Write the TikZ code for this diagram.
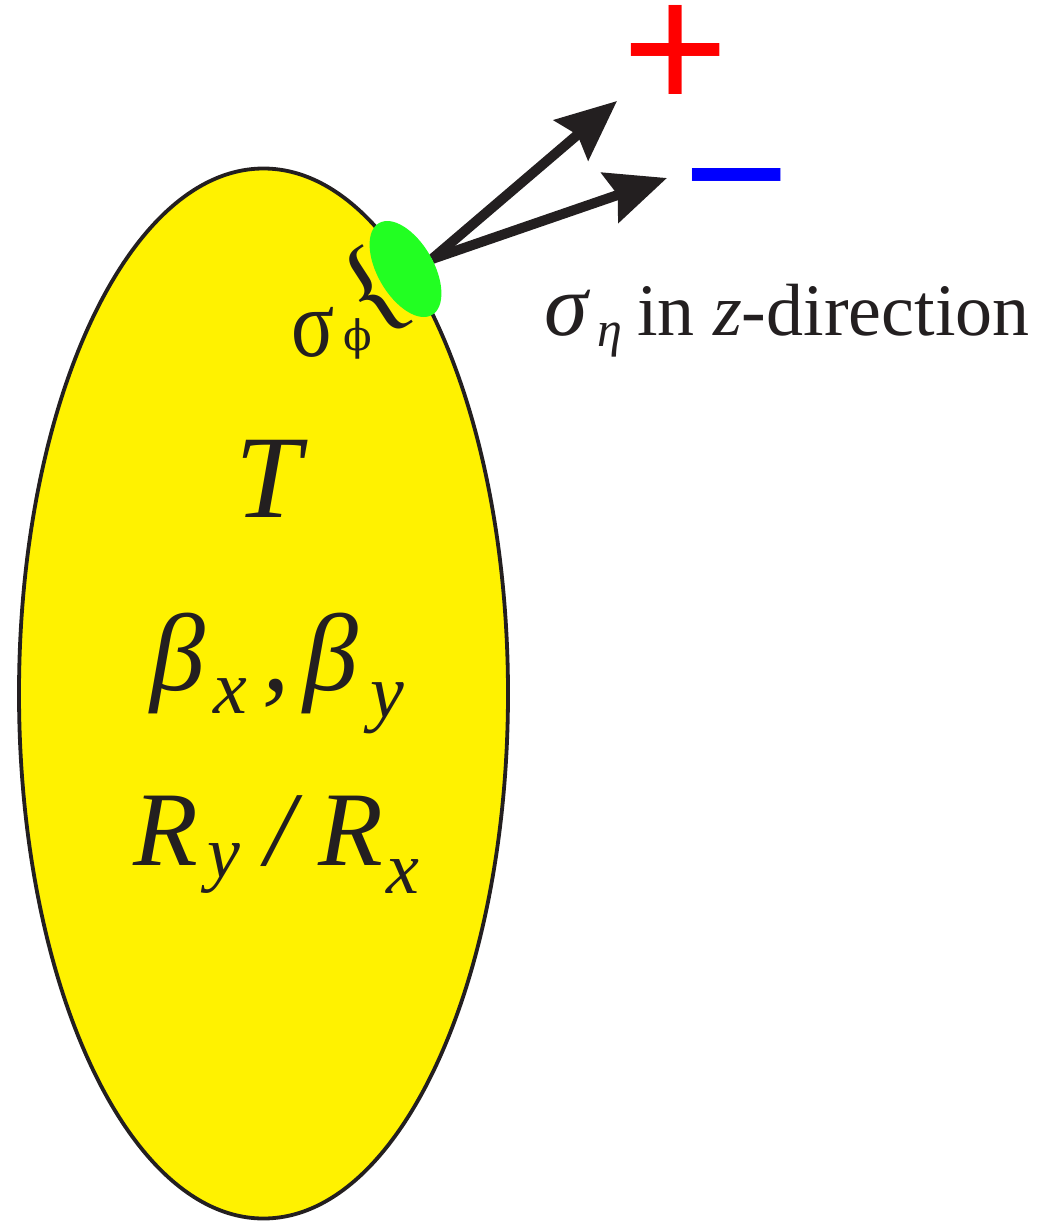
\documentclass[tikz,border=0pt]{standalone}
\usepackage{fontspec}
\setmainfont{Liberation Serif}
\newfontfamily\pmfont{Liberation Sans}
\newfontfamily\phifont{DejaVu Serif}
\usetikzlibrary{arrows.meta,shapes.geometric}
\definecolor{ink}{HTML}{231F20}
\definecolor{blob}{RGB}{34,255,34}
\definecolor{pluscol}{RGB}{255,0,0}
\definecolor{minuscol}{RGB}{0,0,255}
\newcommand\fs[1]{\fontsize{#1}{#1}\selectfont}
\begin{document}
\begin{tikzpicture}[x=1pt,y=-1pt,
  txt/.style={inner sep=0pt, outer sep=0pt, text=ink, anchor=base west},
  arr/.style={draw=ink, line width=10pt, line join=miter,
    -{Stealth[length=60pt,width=52pt,inset=8pt]}}]
\useasboundingbox (0,0) rectangle (1036,1223);
% body
\node[ellipse, draw=ink, line width=3.8pt, fill=yellow, minimum width=489pt,
  minimum height=1050pt, inner sep=0pt] (body) at (263.5,693.5) {};
% arrows
\coordinate (v) at (432,259);
\coordinate (tp) at (617,101);
\coordinate (tm) at (667,178);
\draw[arr] (v) -- (tp);
\draw[arr] (v) -- (tm);
% green spot
\node[ellipse, fill=blob, minimum width=106pt, minimum height=56pt,
  inner sep=0pt, rotate=-60] (spot) at (405.5,269) {};
% brace and sigma_phi
\node[txt, anchor=center, rotate=33] (brace) at (374,293) {\fs{112}\{};
\node[txt, yscale=1.2] (sphi) at (291,356) {\fs{80}σ};
\node[txt] (phi) at (343,350) {\phifont\fs{42}ϕ};
% sigma_eta label
\node[txt] (seta) at (544,335) {\fs{74}\makebox[53pt][l]{\fs{88}\itshape σ}\makebox[40pt][l]{\raisebox{-11pt}{\fs{50}\itshape η}}in {\itshape z}-direction};
% plus / minus
\node[txt, text=pluscol, font={\pmfont\fs{182}}] (plus) at (622,110) {+};
\node[txt, text=minuscol, font={\pmfont\fs{182}}] (minus) at (683,235) {−};
% body labels
\node[txt] (T) at (235,517) {\fs{118}\itshape T};
\node[txt] (beta) at (150,690) {\fs{110}\itshape\makebox[63pt][l]{β}\makebox[49pt][l]{\raisebox{-23pt}{\fs{76}x}}\makebox[42pt][l]{,}\makebox[66pt][l]{β}\raisebox{-27pt}{\fs{76}y}};
\node[txt] (R) at (133,865) {\fs{106}\itshape\makebox[74pt][l]{R}\makebox[58pt][l]{\raisebox{-12pt}{\fs{74}y}}\makebox[53pt][l]{/}\makebox[68pt][l]{R}\raisebox{-28pt}{\fs{74}x}};
\end{tikzpicture}
\end{document}
